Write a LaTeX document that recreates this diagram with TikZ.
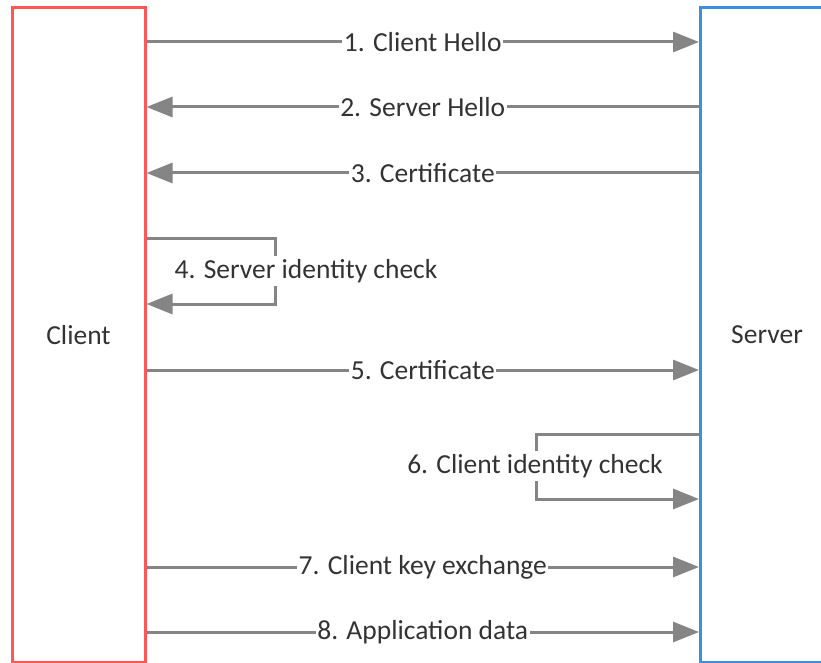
\documentclass[tikz,border=0pt]{standalone}
\usepackage{fontspec}
\setmainfont{Carlito}
\usetikzlibrary{arrows.meta,calc}
\definecolor{clientred}{HTML}{FF5757}
\definecolor{serverblue}{HTML}{3A8FE2}
\definecolor{msggray}{HTML}{858585}
\definecolor{txtgray}{HTML}{333333}
\begin{document}
\begin{tikzpicture}[x=1pt,y=-1pt,
  party/.style={draw, line width=3pt, minimum width=133pt, minimum height=654pt, inner sep=0pt,
    font=\fontsize{27.5}{32}\selectfont, text=txtgray},
  msg/.style={draw=msggray, line width=3pt, -{Triangle[length=26pt,width=20pt]}},
  lbl/.style={fill=white, inner xsep=1.5pt, inner ysep=3pt, text=txtgray, font=\fontsize{27.5}{32}\selectfont}
]
\useasboundingbox (0,0) rectangle (821,663);
\node[party, draw=clientred] (client) at (78.5,335) {Client};
\node[party, draw=serverblue] (server) at (767,335) {Server};

% message rows
\foreach \n/\y in {1/42,2/107,3/173,4a/238,4b/304,5/370,6a/434,6b/499,7/567,8/632}
  \coordinate (r\n) at (0,\y);

\draw[msg] (client.east |- r1) -- node[lbl] {1. Client Hello} (server.west |- r1);
\draw[msg] (server.west |- r2) -- node[lbl] {2. Server Hello} (client.east |- r2);
\draw[msg] (server.west |- r3) -- node[lbl] {3. Certificate} (client.east |- r3);

% server identity check loop on the client side
\coordinate (l4) at (275,0);
\draw[msg] (client.east |- r4a) -- (l4 |- r4a) -- (l4 |- r4b) -- (client.east |- r4b);
\node[lbl] (c4) at (306,271) {4. Server identity check};

\draw[msg] (client.east |- r5) -- node[lbl] {5. Certificate} (server.west |- r5);

% client identity check loop on the server side
\coordinate (l6) at (536,0);
\draw[msg] (server.west |- r6a) -- (l6 |- r6a) -- (l6 |- r6b) -- (server.west |- r6b);
\node[lbl] (c6) at (535,466) {6. Client identity check};

\draw[msg] (client.east |- r7) -- node[lbl] {7. Client key exchange} (server.west |- r7);
\draw[msg] (client.east |- r8) -- node[lbl] {8. Application data} (server.west |- r8);
\end{tikzpicture}
\end{document}
